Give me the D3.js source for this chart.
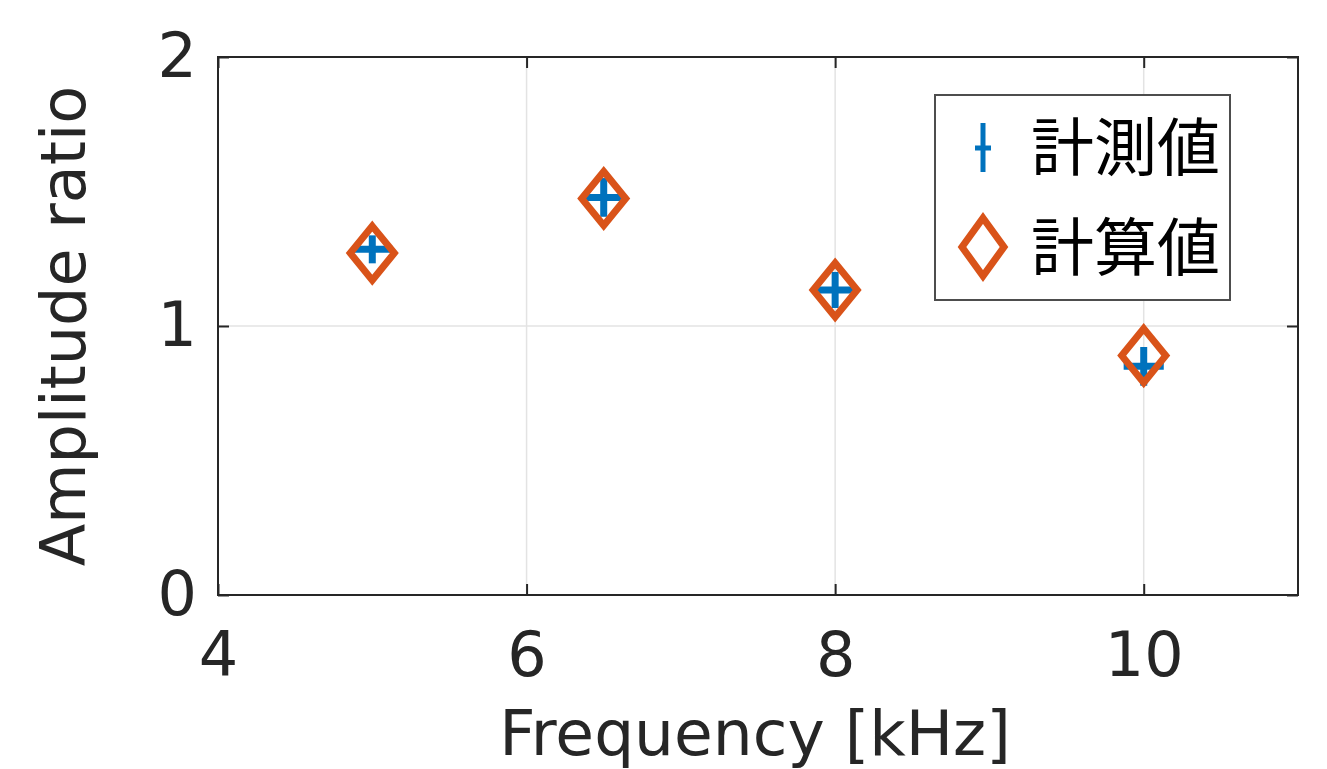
<!DOCTYPE html>
<html><head><meta charset="utf-8">
<script src="https://cdn.jsdelivr.net/npm/d3@7"></script>
<style>body{margin:0;background:#fff}svg{display:block}</style>
</head><body>
<svg id="c" width="1327" height="769"></svg>
<script>
const freq = [5, 6.5, 8, 10];
const measured = [1.285, 1.478, 1.134, 0.850];
const measuredErrY = [0.052, 0.072, 0.067, 0.072];
const measuredErrX = [0.13, 0.13, 0.13, 0.13];
const calculated = [1.271, 1.474, 1.134, 0.890];
const xTicks = [4, 6, 8, 10];
const yTicks = [0, 1, 2];
const legendLabels = ["計測値", "計算値"];
const xLabel = "Frequency [kHz]";
const yLabel = "Amplitude ratio";

const svg = d3.select("#c");
const L = 218, R = 1298, T = 57, B = 595;
const x = d3.scaleLinear().domain([4, 11]).range([L, R]);
const y = d3.scaleLinear().domain([0, 2]).range([B, T]);
const axisColor = "#262626";
const font = "'DejaVu Sans', sans-serif";
const blue = "#0072BD", orange = "#D95319";

// grid
const g = svg.append("g");
g.selectAll(".gx").data(xTicks).join("line")
  .attr("x1", d => x(d)).attr("x2", d => x(d)).attr("y1", T).attr("y2", B)
  .attr("stroke", "#e3e3e3").attr("stroke-width", 1.5);
g.selectAll(".gy").data(yTicks).join("line")
  .attr("y1", d => y(d)).attr("y2", d => y(d)).attr("x1", L).attr("x2", R)
  .attr("stroke", "#e3e3e3").attr("stroke-width", 1.5);

// axes (inward ticks, box)
const tl = 11;
const xb = d3.axisBottom(x).tickValues(xTicks).tickSize(-tl).tickPadding(tl + 26).tickFormat(d3.format("d"));
const xt = d3.axisTop(x).tickValues(xTicks).tickSize(-tl).tickFormat("");
const yl = d3.axisLeft(y).tickValues(yTicks).tickSize(-tl).tickPadding(tl + 10).tickFormat(d3.format("d"));
const yr = d3.axisRight(y).tickValues(yTicks).tickSize(-tl).tickFormat("");
function style(sel){
  sel.select(".domain").attr("stroke", axisColor).attr("stroke-width", 2);
  sel.selectAll(".tick line").attr("stroke", axisColor).attr("stroke-width", 2);
  sel.selectAll(".tick text").attr("fill", axisColor).attr("font-size", 62).attr("font-family", font);
}
svg.append("g").attr("transform", `translate(0,${B})`).call(xb).call(style);
svg.append("g").attr("transform", `translate(0,${T})`).call(xt).call(style);
svg.append("g").attr("transform", `translate(${L},0)`).call(yl).call(style);
svg.append("g").attr("transform", `translate(${R},0)`).call(yr).call(style);
svg.selectAll(".domain").attr("d", null);
svg.append("rect").attr("x", L).attr("y", T).attr("width", R - L).attr("height", B - T)
  .attr("fill", "none").attr("stroke", axisColor).attr("stroke-width", 2);

// labels
svg.append("text").attr("x", 755).attr("y", 755).attr("text-anchor", "middle")
  .attr("font-size", 63).attr("font-family", font).attr("fill", axisColor).text(xLabel);
svg.append("text").attr("transform", `translate(85,${(T + B) / 2}) rotate(-90)`).attr("text-anchor", "middle")
  .attr("font-size", 62).attr("font-family", font).attr("fill", axisColor).text(yLabel);

// measured error bars
const pts = freq.map((f, i) => ({f, m: measured[i], ey: measuredErrY[i], ex: measuredErrX[i], c: calculated[i]}));
const eb = svg.append("g").attr("stroke", blue).attr("stroke-width", 7);
eb.selectAll(".v").data(pts).join("line")
  .attr("x1", d => x(d.f)).attr("x2", d => x(d.f))
  .attr("y1", d => y(d.m - d.ey)).attr("y2", d => y(d.m + d.ey));
eb.selectAll(".h").data(pts).join("line")
  .attr("x1", d => x(d.f - d.ex)).attr("x2", d => x(d.f + d.ex))
  .attr("y1", d => y(d.m)).attr("y2", d => y(d.m));

// diamonds
const dw = 22, dh = 27;
const diamond = `M0,${-dh}L${dw},0L0,${dh}L${-dw},0Z`;
svg.append("g").selectAll("path").data(pts).join("path")
  .attr("d", diamond).attr("transform", d => `translate(${x(d.f)},${y(d.c)})`)
  .attr("fill", "none").attr("stroke", orange).attr("stroke-width", 7).attr("stroke-linejoin", "miter");

// legend
const lg = svg.append("g");
lg.append("rect").attr("x", 935).attr("y", 95).attr("width", 295).attr("height", 205)
  .attr("fill", "#fff").attr("stroke", "#4d4d4d").attr("stroke-width", 2);
lg.append("line").attr("x1", 983).attr("x2", 983).attr("y1", 123).attr("y2", 172).attr("stroke", blue).attr("stroke-width", 5);
lg.append("line").attr("x1", 975).attr("x2", 991).attr("y1", 148).attr("y2", 148).attr("stroke", blue).attr("stroke-width", 5);
lg.append("path").attr("d", `M0,-29L21,0L0,29L-21,0Z`).attr("transform", "translate(983,247)")
  .attr("fill", "none").attr("stroke", orange).attr("stroke-width", 7);
lg.selectAll("text").data(legendLabels).join("text")
  .attr("x", 1031).attr("y", (d, i) => 142 + i * 100).attr("dominant-baseline", "central")
  .attr("font-size", 63).attr("font-family", "'Noto Sans CJK JP', sans-serif").attr("fill", "#000").text(d => d);
</script>
</body></html>
